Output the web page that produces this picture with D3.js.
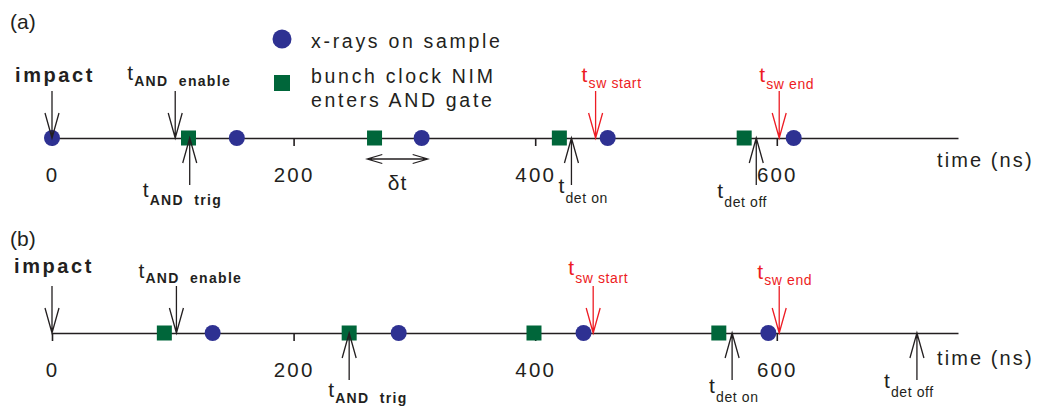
<!DOCTYPE html>
<html><head><meta charset="utf-8">
<script src="https://cdn.jsdelivr.net/npm/d3@7"></script>
<style>
html,body{margin:0;padding:0;background:#fff;}
svg{display:block;}
text{font-family:"Liberation Sans",Arial,sans-serif;fill:#231f20;white-space:pre;}
</style></head>
<body>
<svg id="chart" width="1038" height="409"></svg>
<script>
// ---------------- data ----------------
const xTicks = [0, 200, 400, 600];
const axisLabel = "time (ns)";
const timeDomain = [0, 750];

const panelA_xrays = [0, 153, 306, 460, 614];
const panelA_bunch = [113, 267, 420, 573];
const panelA_events = [
  {id: "impact", t: 0,   dir: "down", main: "impact", sub: "",           red: false, bold: true},
  {id: "andEn",  t: 102, dir: "down", main: "t",      sub: "AND  enable", red: false, bold: true},
  {id: "andTr",  t: 114, dir: "up",   main: "t",      sub: "AND  trig",   red: false, bold: true},
  {id: "detOn",  t: 430, dir: "up",   main: "t",      sub: "det on",      red: false, bold: false},
  {id: "swSt",   t: 450, dir: "down", main: "t",      sub: "sw start",    red: true,  bold: false},
  {id: "detOff", t: 583, dir: "up",   main: "t",      sub: "det off",     red: false, bold: false},
  {id: "swEnd",  t: 602, dir: "down", main: "t",      sub: "sw end",      red: true,  bold: false}
];
const panelA_deltaT = [261, 311];

const panelB_xrays = [133, 287, 440, 593];
const panelB_bunch = [93, 246, 399, 552];
const panelB_events = [
  {id: "impact", t: 0,   dir: "down", main: "impact", sub: "",           red: false, bold: true},
  {id: "andEn",  t: 103, dir: "down", main: "t",      sub: "AND  enable", red: false, bold: true},
  {id: "andTr",  t: 246, dir: "up",   main: "t",      sub: "AND  trig",   red: false, bold: true},
  {id: "swSt",   t: 448, dir: "down", main: "t",      sub: "sw start",    red: true,  bold: false},
  {id: "detOn",  t: 563, dir: "up",   main: "t",      sub: "det on",      red: false, bold: false},
  {id: "swEnd",  t: 602, dir: "down", main: "t",      sub: "sw end",      red: true,  bold: false},
  {id: "detOff", t: 716, dir: "up",   main: "t",      sub: "det off",     red: false, bold: false}
];

const legendItems = [
  {shape: "circle", lines: ["x-rays on sample"]},
  {shape: "square", lines: ["bunch clock NIM", "enters AND gate"]}
];

// ---------------- layout / style ----------------
const C_CIRCLE = "#2e3192", C_SQUARE = "#00663a", C_RED = "#ed1c24", C_INK = "#231f20";
const svg = d3.select("#chart");
const x = d3.scaleLinear().domain(timeDomain).range([52, 958]);

// label offsets (dx from arrow x, dy of main baseline and sub baseline from axis)
const labelLayout = {
  a: {
    impact: {dx: -37, dy: -56}, andEn: {dx: -48, dy: -58, sdy: -52}, andTr: {dx: -47, dy: 59, sdy: 67},
    detOn: {dx: -13, dy: 55, sdy: 65}, swSt: {dx: -14, dy: -56, sdy: -50},
    detOff: {dx: -39, dy: 60, sdy: 69}, swEnd: {dx: -20, dy: -56, sdy: -49}
  },
  b: {
    impact: {dx: -38, dy: -60}, andEn: {dx: -38, dy: -55, sdy: -50}, andTr: {dx: -21, dy: 64, sdy: 70},
    swSt: {dx: -25, dy: -58, sdy: -50}, detOn: {dx: -23, dy: 60, sdy: 69},
    swEnd: {dx: -22, dy: -54, sdy: -48}, detOff: {dx: -33, dy: 55, sdy: 64}
  }
};

function drawPanel(key, axisY, xrays, bunch, events, tag, tagY, timeY) {
  const g = svg.append("g");
  // panel tag
  g.append("text").attr("x", 10).attr("y", tagY).attr("font-size", 21).text(tag);

  // axis
  const axis = d3.axisBottom(x).tickValues(xTicks).tickSize(8).tickSizeOuter(0).tickPadding(21)
    .tickFormat(d3.format("d"));
  const ag = g.append("g").attr("transform", `translate(0,${axisY})`).call(axis);
  ag.select(".domain").attr("stroke", C_INK).attr("stroke-width", 1.6);
  ag.selectAll(".tick line").attr("stroke", C_INK).attr("stroke-width", 1.6);
  ag.selectAll(".tick text").attr("font-size", 20.5).attr("fill", C_INK)
    .attr("font-family", "Liberation Sans, Arial, sans-serif").attr("letter-spacing", 2.2);
  g.append("text").attr("x", 937).attr("y", timeY).attr("font-size", 20).attr("letter-spacing", 2.1).text(axisLabel);

  // symbols
  g.selectAll("circle.xr").data(xrays).join("circle").attr("class", "xr")
    .attr("cx", d => x(d)).attr("cy", axisY).attr("r", 8).attr("fill", C_CIRCLE);
  g.selectAll("rect.bc").data(bunch).join("rect").attr("class", "bc")
    .attr("x", d => x(d) - 7.5).attr("y", axisY - 7.5).attr("width", 15).attr("height", 15).attr("fill", C_SQUARE);

  // arrows
  const L = 47, HL = 25, HW = 7;
  events.forEach(ev => {
    const ax = x(ev.t);
    const s = ev.dir === "down" ? -1 : 1;
    const col = ev.red ? C_RED : C_INK;
    const p = d3.path();
    p.moveTo(ax, axisY + s * L); p.lineTo(ax, axisY);
    p.moveTo(ax - HW, axisY + s * HL); p.lineTo(ax, axisY); p.lineTo(ax + HW, axisY + s * HL);
    g.append("path").attr("d", p.toString()).attr("fill", "none").attr("stroke", col).attr("stroke-width", 1.3);

    const lay = labelLayout[key][ev.id];
    if (ev.sub === "") {
      g.append("text").attr("x", ax + lay.dx).attr("y", axisY + lay.dy).attr("font-size", 20)
        .attr("font-weight", "bold").attr("letter-spacing", 2.6).attr("fill", col).text(ev.main);
    } else {
      g.append("text").attr("x", ax + lay.dx).attr("y", axisY + lay.dy).attr("font-size", 21)
        .attr("fill", col).style("fill", col).text(ev.main);
      g.append("text").attr("x", ax + lay.dx + 7).attr("y", axisY + lay.sdy).attr("font-size", 14)
        .attr("font-weight", ev.bold ? "bold" : "normal")
        .attr("letter-spacing", ev.bold ? 1.3 : 0.6).style("fill", col).text(ev.sub);
    }
  });
  return g;
}

drawPanel("a", 138, panelA_xrays, panelA_bunch, panelA_events, "(a)", 29, 167);
drawPanel("b", 333, panelB_xrays, panelB_bunch, panelB_events, "(b)", 246, 365);

// delta t double arrow (panel a)
(function () {
  const y = 159, x1 = x(panelA_deltaT[0]), x2 = x(panelA_deltaT[1]);
  const p = d3.path();
  p.moveTo(x1, y); p.lineTo(x2, y);
  p.moveTo(x1 + 15, y - 4.5); p.lineTo(x1, y); p.lineTo(x1 + 15, y + 4.5);
  p.moveTo(x2 - 15, y - 4.5); p.lineTo(x2, y); p.lineTo(x2 - 15, y + 4.5);
  svg.append("path").attr("d", p.toString()).attr("fill", "none").attr("stroke", C_INK).attr("stroke-width", 1.3);
  svg.append("text").attr("x", (x1 + x2) / 2).attr("y", 190).attr("text-anchor", "middle")
    .attr("font-size", 21).attr("letter-spacing", 1).text("\u03b4t");
})();

// legend
(function () {
  const lg = svg.append("g");
  const rows = [{cy: 39, base: [48]}, {cy: 83, base: [83, 107]}];
  legendItems.forEach((it, i) => {
    if (it.shape === "circle") lg.append("circle").attr("cx", 282).attr("cy", rows[i].cy).attr("r", 9.5).attr("fill", C_CIRCLE);
    else lg.append("rect").attr("x", 274).attr("y", rows[i].cy - 8).attr("width", 16).attr("height", 16).attr("fill", C_SQUARE);
    it.lines.forEach((ln, j) => {
      lg.append("text").attr("x", 311).attr("y", rows[i].base[j]).attr("font-size", 19.5)
        .attr("letter-spacing", 2.7).text(ln);
    });
  });
})();
</script>
</body></html>
